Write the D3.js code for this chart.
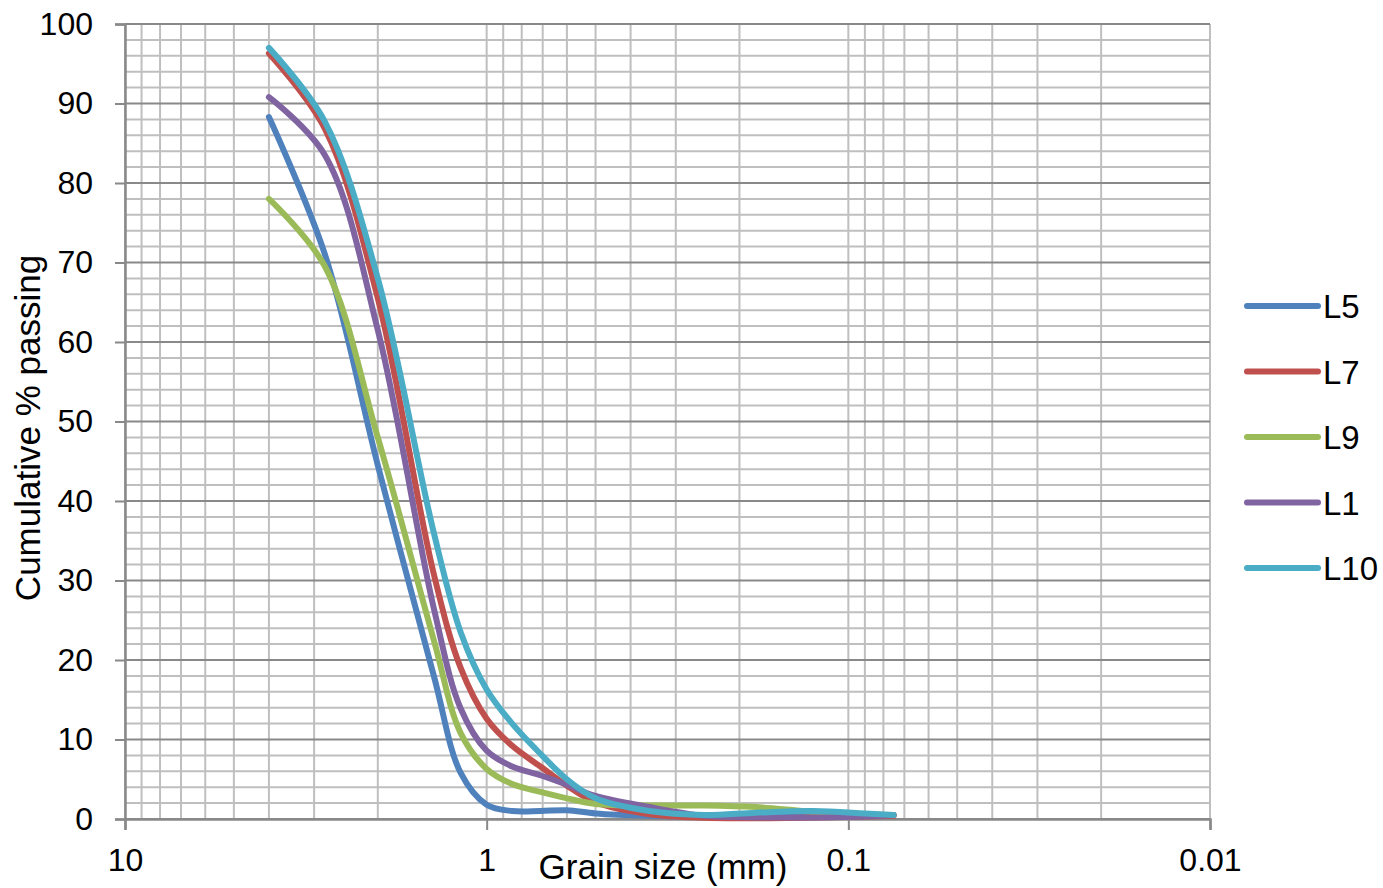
<!DOCTYPE html>
<html>
<head>
<meta charset="utf-8">
<script src="https://cdn.jsdelivr.net/npm/d3@7"></script>
<style>
  html, body { margin: 0; padding: 0; background: #fff; }
  svg { display: block; font-family: "Liberation Sans", Arial, sans-serif; }
</style>
</head>
<body>
<svg id="chart" width="1383" height="888"></svg>
<script>
// ---- data ----
const sieveSizes = [4, 2.8, 2, 1.4, 1.18, 1, 0.85, 0.71, 0.6, 0.5, 0.355, 0.25, 0.18, 0.125, 0.09, 0.075];
const seriesNames = ["L5", "L7", "L9", "L1", "L10"];
const L5  = [88.3, 71.0, 44.5, 18.0, 5.8, 1.8, 1.0, 1.0, 1.1, 0.7, 0.4, 0.3, 0.3, 0.4, 0.5, 0.5];
const L7  = [96.3, 86.8, 65.5, 30.8, 19.0, 12.6, 9.2, 6.6, 4.2, 2.1, 0.6, 0.15, 0.1, 0.2, 0.3, 0.4];
const L9  = [78.0, 69.5, 48.0, 22.5, 10.8, 6.3, 4.4, 3.4, 2.6, 1.9, 1.7, 1.7, 1.5, 0.9, 0.6, 0.5];
const L1  = [90.8, 83.5, 61.5, 26.5, 13.9, 8.6, 6.6, 5.5, 4.3, 2.9, 1.5, 0.4, 0.2, 0.2, 0.3, 0.5];
const L10 = [97.0, 87.7, 68.0, 36.0, 23.5, 16.3, 12.0, 8.2, 5.0, 2.6, 1.0, 0.5, 0.8, 1.0, 0.7, 0.5];
const seriesValues = [L5, L7, L9, L1, L10];
const seriesColors = ["#4F81BD", "#C0504D", "#9BBB59", "#8064A2", "#4BACC6"];
const yTicks = [0, 10, 20, 30, 40, 50, 60, 70, 80, 90, 100];
const xTicks = [10, 1, 0.1, 0.01];
const xTickLabels = ["10", "1", "0.1", "0.01"];
const xTitle = "Grain size (mm)";
const yTitle = "Cumulative % passing";

// ---- layout ----
const svg = d3.select("#chart");
const pLeft = 125, pRight = 1210, pTop = 24, pBottom = 819;
const x = d3.scaleLog().domain([10, 0.01]).range([pLeft, pRight]);
const y = d3.scaleLinear().domain([0, 100]).range([pBottom, pTop]);

// minor vertical gridlines (log)
const xMinor = [];
[-2, -1, 0].forEach(e => { for (let k = 1; k <= 9; k++) xMinor.push(k * Math.pow(10, e)); });
xMinor.push(10);
const yMinor = d3.range(0, 101, 2).filter(v => v % 10 !== 0);

const grid = svg.append("g");
grid.selectAll("line.vx").data(xMinor).join("line")
  .attr("x1", d => x(d)).attr("x2", d => x(d))
  .attr("y1", pTop).attr("y2", pBottom)
  .attr("stroke", "#bfbfbf").attr("stroke-width", 2);
grid.selectAll("line.hy").data(yMinor).join("line")
  .attr("x1", pLeft).attr("x2", pRight)
  .attr("y1", d => y(d)).attr("y2", d => y(d))
  .attr("stroke", "#bfbfbf").attr("stroke-width", 2);
grid.selectAll("line.hmaj").data(yTicks).join("line")
  .attr("x1", pLeft).attr("x2", pRight)
  .attr("y1", d => y(d)).attr("y2", d => y(d))
  .attr("stroke", "#898989").attr("stroke-width", 2);

// axes
const yAxis = svg.append("g").attr("transform", `translate(${pLeft},0)`)
  .call(d3.axisLeft(y).tickValues(yTicks).tickSize(10).tickPadding(22).tickFormat(d3.format("d")));
yAxis.select(".domain").attr("stroke", "#898989").attr("stroke-width", 2.5);
yAxis.selectAll(".tick line").attr("stroke", "#898989").attr("stroke-width", 2);
yAxis.selectAll(".tick text").attr("font-size", 32).attr("fill", "#000")
  .attr("font-family", "Liberation Sans, Arial, sans-serif");

const xAxis = svg.append("g").attr("transform", `translate(0,${pBottom})`)
  .call(d3.axisBottom(x).tickValues(xTicks).tickSize(11).tickPadding(18)
    .tickFormat((d, i) => xTickLabels[i]));
xAxis.select(".domain").attr("stroke", "#898989").attr("stroke-width", 2.5);
xAxis.selectAll(".tick line").attr("stroke", "#898989").attr("stroke-width", 2);
xAxis.selectAll(".tick text").attr("font-size", 32).attr("fill", "#000")
  .attr("font-family", "Liberation Sans, Arial, sans-serif");

// series
const line = d3.line()
  .x(d => x(d[0])).y(d => y(d[1]))
  .curve(d3.curveCatmullRom.alpha(0.5));
seriesValues.forEach((vals, i) => {
  const pts = sieveSizes.map((s, j) => [s, vals[j]]);
  svg.append("path").datum(pts)
    .attr("d", line)
    .attr("fill", "none")
    .attr("stroke", seriesColors[i])
    .attr("stroke-width", 6)
    .attr("stroke-linecap", "round")
    .attr("stroke-linejoin", "round");
});

// titles
svg.append("text").attr("x", 663).attr("y", 879).attr("text-anchor", "middle")
  .attr("font-size", 35).attr("fill", "#000").text(xTitle);
svg.append("text").attr("transform", "translate(40,428) rotate(-90)")
  .attr("text-anchor", "middle").attr("font-size", 35).attr("fill", "#000").text(yTitle);

// legend
const lg = svg.append("g");
seriesNames.forEach((n, i) => {
  const ly = 306 + i * 65.5;
  lg.append("line").attr("x1", 1247).attr("x2", 1318).attr("y1", ly).attr("y2", ly)
    .attr("stroke", seriesColors[i]).attr("stroke-width", 6).attr("stroke-linecap", "round");
  lg.append("text").attr("x", 1323).attr("y", ly + 12).attr("font-size", 33)
    .attr("fill", "#000").text(n);
});
</script>
</body>
</html>
